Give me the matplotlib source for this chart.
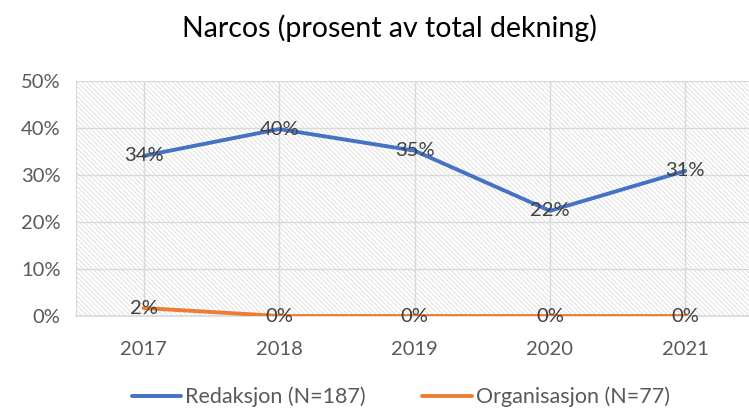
import matplotlib.pyplot as plt

years = ['2017', '2018', '2019', '2020', '2021']
redaksjon = [34.1, 39.8, 35.2, 22.4, 30.9]
organisasjon = [1.7, 0, 0, 0, 0]
series_names = ['Redaksjon (N=187)', 'Organisasjon (N=77)']

plt.rcParams['font.family'] = ['Lato', 'DejaVu Sans']
plt.rcParams['hatch.color'] = '#dcdcdc'
plt.rcParams['hatch.linewidth'] = 0.55

fig = plt.figure(figsize=(7.49, 4.12), dpi=100)
ax = fig.add_axes([0.1015, 0.233, 0.8985, 0.570])

# hatched plot area like the Excel chart
ax.patch.set_facecolor('white')
ax.patch.set_hatch('\\' * 7)
ax.patch.set_edgecolor('#d9d9d9')

x = range(len(years))
ax.plot(x, redaksjon, color='#4472C4', lw=2.8, label=series_names[0], solid_capstyle='round', zorder=3)
ax.plot(x, organisasjon, color='#ED7D31', lw=2.8, label=series_names[1], solid_capstyle='round', zorder=3)

for series in (redaksjon, organisasjon):
    for i, v in enumerate(series):
        ax.text(i, v, f'{round(v):.0f}%', ha='center', va='center',
                fontsize=14.5, color='#404040', zorder=4)

ax.set_xlim(-0.5, 4.47)
ax.set_ylim(0, 50)
ax.set_xticks(list(x))
ax.set_xticklabels(years)
ax.set_yticks(range(0, 51, 10))
ax.set_yticklabels([f'{t}%' for t in range(0, 51, 10)])
ax.tick_params(length=0, labelsize=14.5, colors='#595959')
ax.tick_params(axis='x', pad=18)
ax.tick_params(axis='y', pad=11)

ax.grid(True, color='#d9d9d9', lw=1)
ax.set_axisbelow(True)
for s in ['top', 'right']:
    ax.spines[s].set_visible(False)
ax.spines['left'].set_color('#d9d9d9')
ax.spines['bottom'].set_color('#d9d9d9')
ax.spines['bottom'].set_linewidth(1.2)

fig.suptitle('Narcos (prosent av total dekning)', x=0.52, y=0.965, fontsize=20.5, color='black')
fig.legend(loc='lower center', bbox_to_anchor=(0.535, -0.035), ncol=2, frameon=False,
           fontsize=15.5, labelcolor='#595959', handlelength=2.3, columnspacing=2.6,
           handletextpad=0.2)

fig.savefig('out.png', dpi=100)
